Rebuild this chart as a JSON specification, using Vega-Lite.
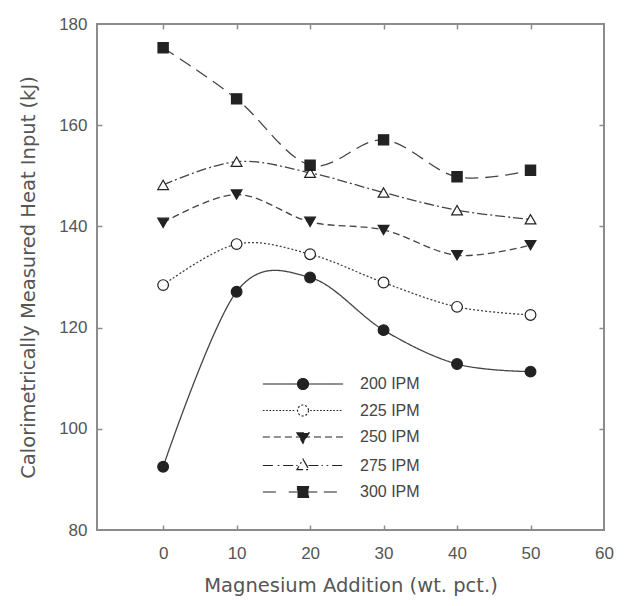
{
  "$schema": "https://vega.github.io/schema/vega-lite/v6.json",
  "autosize": {"type": "none"},
  "padding": {"left": 97, "top": 24, "right": 20, "bottom": 76},
  "width": 507,
  "height": 506,
  "background": "white",
  "config": {
    "view": {"stroke": "#8c8c8c", "strokeWidth": 2},
    "font": "Liberation Sans",
    "axis": {
      "grid": false,
      "domain": false,
      "tickColor": "#8c8c8c",
      "tickWidth": 1.5,
      "labelFont": "Liberation Sans",
      "labelFontSize": 17,
      "labelColor": "#555",
      "labelFlush": false,
      "labelOverlap": false,
      "titleFont": "DejaVu Sans",
      "titleFontSize": 19.5,
      "titleFontWeight": "normal",
      "titleColor": "#555"
    }
  },
  "data": {
    "values": [
      {"series": "200 IPM", "mg": 0, "heat": 92.5},
      {"series": "200 IPM", "mg": 10, "heat": 127.1},
      {"series": "200 IPM", "mg": 20, "heat": 129.9},
      {"series": "200 IPM", "mg": 30, "heat": 119.5},
      {"series": "200 IPM", "mg": 40, "heat": 112.8},
      {"series": "200 IPM", "mg": 50, "heat": 111.3},
      {"series": "225 IPM", "mg": 0, "heat": 128.4},
      {"series": "225 IPM", "mg": 10, "heat": 136.5},
      {"series": "225 IPM", "mg": 20, "heat": 134.5},
      {"series": "225 IPM", "mg": 30, "heat": 128.9},
      {"series": "225 IPM", "mg": 40, "heat": 124.1},
      {"series": "225 IPM", "mg": 50, "heat": 122.5},
      {"series": "250 IPM", "mg": 0, "heat": 140.7},
      {"series": "250 IPM", "mg": 10, "heat": 146.3},
      {"series": "250 IPM", "mg": 20, "heat": 140.9},
      {"series": "250 IPM", "mg": 30, "heat": 139.3},
      {"series": "250 IPM", "mg": 40, "heat": 134.3},
      {"series": "250 IPM", "mg": 50, "heat": 136.3},
      {"series": "275 IPM", "mg": 0, "heat": 148.2},
      {"series": "275 IPM", "mg": 10, "heat": 152.8},
      {"series": "275 IPM", "mg": 20, "heat": 150.6},
      {"series": "275 IPM", "mg": 30, "heat": 146.7},
      {"series": "275 IPM", "mg": 40, "heat": 143.2},
      {"series": "275 IPM", "mg": 50, "heat": 141.4},
      {"series": "300 IPM", "mg": 0, "heat": 175.3},
      {"series": "300 IPM", "mg": 10, "heat": 165.2},
      {"series": "300 IPM", "mg": 20, "heat": 152.1},
      {"series": "300 IPM", "mg": 30, "heat": 157.1},
      {"series": "300 IPM", "mg": 40, "heat": 149.8},
      {"series": "300 IPM", "mg": 50, "heat": 151.1}
    ]
  },
  "resolve": {"axis": {"x": "independent", "y": "independent"}},
  "layer": [
    {
      "mark": {"type": "line", "interpolate": "cardinal", "strokeWidth": 1.3, "color": "#444"},
      "encoding": {
        "x": {"field": "mg", "type": "quantitative", "scale": {"domain": [-9, 60], "nice": false, "zero": false},
              "axis": {"orient": "bottom", "values": [0, 10, 20, 30, 40, 50, 60], "ticks": false, "labelPadding": 15, "title": "Magnesium Addition (wt. pct.)", "titlePadding": 15}},
        "y": {"field": "heat", "type": "quantitative", "scale": {"domain": [80, 180], "nice": false, "zero": false},
              "axis": {"orient": "left", "values": [80, 100, 120, 140, 160, 180], "ticks": false, "labelPadding": 10, "title": "Calorimetrically Measured Heat Input (kJ)", "titlePadding": 20}},
        "strokeDash": {"field": "series", "type": "nominal",
              "scale": {"domain": ["200 IPM", "225 IPM", "250 IPM", "275 IPM", "300 IPM"], "range": [[1, 0], [2, 2], [7, 4], [10, 3, 2, 3], [13, 7]]},
              "legend": {
                "orient": "none", "legendX": 198, "legendY": 352, "title": null,
                "symbolSize": 121, "symbolStrokeWidth": 1.2, "symbolStrokeColor": "#222", "symbolOpacity": 1,
                "labelFont": "Liberation Sans", "labelFontSize": 16, "labelColor": "#444", "labelOffset": 49,
                "rowPadding": 10.5,
                "encode": {"symbols": {"update": {
                  "shape": {"signal": "datum.value === '200 IPM' ? 'M-7.3,0L7.3,0M1,0A1,1,0,1,1,-1,0A1,1,0,1,1,1,0Z' : datum.value === '225 IPM' ? 'M-7.3,0L-7,0M-6.7,0L-6.4,0M-6.1,0L-5.8,0M-5.5,0L-5.2,0M-4.9,0L-4.6,0M-4.3,0L-4,0M-3.7,0L-3.4,0M-3.1,0L-2.8,0M-2.5,0L-2.2,0M-1.9,0L-1.6,0M1.3,0L1.6,0M1.9,0L2.2,0M2.5,0L2.8,0M3.1,0L3.4,0M3.7,0L4,0M4.3,0L4.6,0M4.9,0L5.2,0M5.5,0L5.8,0M6.1,0L6.4,0M6.7,0L7,0M1,0A1,1,0,1,1,-1,0A1,1,0,1,1,1,0Z' : datum.value === '250 IPM' ? 'M-7.3,0L-6,0M-5.3,0L-4,0M-3.3,0L-2,0M-1.3,0L1.3,0M2,0L3.3,0M4,0L5.3,0M6,0L7.3,0M-1.1,-0.75L1.1,-0.75L0,1.15Z' : datum.value === '275 IPM' ? 'M-7.3,0L-5.3,0M-4.6,0L-4.3,0M-3.6,0L-1,0M1,0L3.6,0M4.3,0L4.6,0M5.3,0L7.3,0M0,-1.15L1.1,0.75L-1.1,0.75Z' : 'M-7.3,0L-3.8,0M-2.6,0L-1,0M1,0L2.6,0M3.8,0L7.3,0M-1,-1L1,-1L1,1L-1,1Z'"},
                  "fill": {"signal": "datum.value === '225 IPM' || datum.value === '275 IPM' ? '#ffffff' : '#222222'"},
                  "stroke": {"value": "#222"},
                  "strokeWidth": {"value": 1.2},
                  "strokeDash": {"value": [1, 0]},
                  "opacity": {"value": 1},
                  "size": {"value": 121}
                }}}
              }}
      }
    },
    {
      "transform": [{"filter": "datum.series === '200 IPM'"}],
      "mark": {"type": "point", "shape": "circle", "filled": true, "fill": "#222", "size": 115, "stroke": "#222", "strokeWidth": 1.2, "opacity": 1},
      "encoding": {
        "x": {"field": "mg", "type": "quantitative",
              "axis": {"orient": "bottom", "offset": -5, "tickSize": 5, "values": [0, 10, 20, 30, 40, 50], "labels": false, "title": null}},
        "y": {"field": "heat", "type": "quantitative",
              "axis": {"orient": "left", "offset": -5, "tickSize": 5, "values": [100, 120, 140, 160], "labels": false, "title": null}}
      }
    },
    {
      "transform": [{"filter": "datum.series === '225 IPM'"}],
      "mark": {"type": "point", "shape": "circle", "filled": true, "fill": "#fff", "size": 115, "stroke": "#222", "strokeWidth": 1.2, "opacity": 1},
      "encoding": {
        "x": {"field": "mg", "type": "quantitative",
              "axis": {"orient": "top", "offset": -5, "tickSize": 5, "values": [0, 10, 20, 30, 40, 50], "labels": false, "title": null}},
        "y": {"field": "heat", "type": "quantitative",
              "axis": {"orient": "right", "offset": -5, "tickSize": 5, "values": [100, 120, 140, 160], "labels": false, "title": null}}
      }
    },
    {
      "transform": [{"filter": "datum.series === '250 IPM'"}],
      "mark": {"type": "point", "shape": "triangle-down", "filled": true, "fill": "#222", "size": 115, "stroke": "#222", "strokeWidth": 1.2, "opacity": 1},
      "encoding": {
        "x": {"field": "mg", "type": "quantitative", "axis": null},
        "y": {"field": "heat", "type": "quantitative", "axis": null}
      }
    },
    {
      "transform": [{"filter": "datum.series === '275 IPM'"}],
      "mark": {"type": "point", "shape": "triangle-up", "filled": true, "fill": "#fff", "size": 115, "stroke": "#222", "strokeWidth": 1.2, "opacity": 1},
      "encoding": {
        "x": {"field": "mg", "type": "quantitative", "axis": null},
        "y": {"field": "heat", "type": "quantitative", "axis": null}
      }
    },
    {
      "transform": [{"filter": "datum.series === '300 IPM'"}],
      "mark": {"type": "point", "shape": "square", "filled": true, "fill": "#222", "size": 105, "stroke": "#222", "strokeWidth": 1.2, "opacity": 1},
      "encoding": {
        "x": {"field": "mg", "type": "quantitative", "axis": null},
        "y": {"field": "heat", "type": "quantitative", "axis": null}
      }
    }
  ]
}
